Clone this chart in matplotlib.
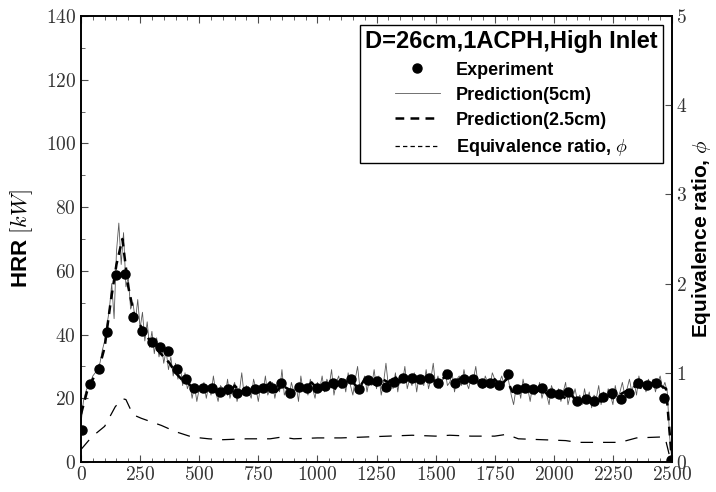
import numpy as np
import matplotlib
matplotlib.use("Agg")
import matplotlib.pyplot as plt
from matplotlib.ticker import FuncFormatter, MultipleLocator
from matplotlib.lines import Line2D

plt.rcParams['mathtext.fontset'] = 'cm'
plt.rcParams['font.family'] = ['Liberation Sans', 'DejaVu Sans']

# Experiment
exp_t = [3, 38, 76, 111, 147, 186, 221, 260, 299, 334, 369, 407, 444, 479, 516, 553, 588, 622, 659, 698,
         736, 771, 807, 846, 884, 922, 957, 997, 1032, 1067, 1105, 1142, 1177, 1213, 1251, 1289, 1325, 1361, 1399, 1434,
         1472, 1511, 1547, 1582, 1620, 1657, 1695, 1730, 1768, 1805, 1843, 1878, 1913, 1951, 1988, 2023, 2062, 2097, 2135, 2172,
         2210, 2245, 2283, 2318, 2355, 2393, 2431, 2468, 2494]
exp_hrr = [10, 24.5, 29.2, 40.8, 58.7, 58.9, 45.4, 41.1, 37.8, 36, 34.9, 29.1, 26, 23.1, 23.1, 23.1, 21.9, 22.9, 21.8, 22.4,
           22.9, 23.1, 23.3, 24.9, 21.8, 23.6, 23.1, 23.1, 23.8, 24.7, 24.7, 26, 22.9, 25.7, 25.5, 23.6, 25.2, 26.3, 26.3, 26,
           26.3, 24.9, 27.6, 24.7, 26, 26, 24.7, 24.7, 24.2, 27.6, 22.9, 23.1, 22.8, 23.1, 21.6, 21.3, 22.1, 19.2, 19.8, 19.2,
           20.3, 21.8, 19.7, 21.8, 24.7, 24.2, 24.7, 20, 0.6]

# Prediction (5cm), every 10 s
pred5_t = np.arange(0, 2501, 10)
pred5_hrr = [12, 19, 22, 24, 25, 27, 28, 30, 31, 35, 38, 43, 48, 56, 45, 66, 75, 62, 72, 55, 58, 48, 50, 44, 51, 42,
             47, 38, 44, 36, 41, 34, 39, 33, 37, 31, 35, 29, 33, 27, 31, 26, 30, 24, 28, 23, 25, 20, 24, 19, 23,
             22, 25, 20, 24, 21, 27, 22, 19, 24, 23, 21, 26, 20, 23, 25, 19, 22, 28, 21, 24,
             22, 20, 26, 23, 19, 24, 22, 27, 21, 23, 25, 20, 24, 22, 29, 21, 23, 20, 25, 22,
             24, 19, 27, 22, 24, 21, 26, 23, 20, 25,
             23, 27, 22, 26, 24, 29, 21, 25, 27, 23, 26, 22, 28, 24, 21, 26, 30, 23, 25, 27,
             22, 26, 24, 29, 23, 27, 21, 25, 31, 24, 26, 23, 28, 22, 27, 25, 30, 23, 26, 24,
             28, 22, 27, 25, 24, 29, 23, 26, 31, 24,
             27, 23, 26, 29, 24, 25, 28, 22, 26, 27, 24, 29, 25, 23, 27, 26, 30, 24, 25, 23,
             27, 25, 24, 28, 26, 23, 25, 27, 24, 29,
             25, 21, 18, 23, 24, 20, 26, 22, 23, 19, 24, 21, 22, 25, 20, 23, 21, 18, 24, 22,
             20, 23, 19, 22, 25, 18, 21, 20, 23, 19,
             21, 18, 23, 19, 22, 17, 21, 20, 24, 18, 22, 19, 23, 21, 18, 24, 20, 22, 25, 21,
             23, 26, 22, 25, 21, 27, 23, 25, 22, 26,
             24, 26, 22, 25, 27, 23, 25, 22, 8, 0]

# Prediction (2.5cm), every 25 s
pred25_t = np.arange(0, 2501, 25)
pred25_hrr = [15, 22, 26, 29, 36, 50, 62, 70, 55, 46, 43, 40, 37, 35, 33, 31, 28, 26, 25, 23, 23,
              22, 24, 22, 23, 21, 24, 22, 23, 24, 22, 23, 25, 22, 24, 23, 22, 24, 23, 25, 23,
              24, 25, 23, 26, 24, 25, 23, 26, 25, 24, 26, 25, 27, 25, 26, 27, 25, 26, 27, 25,
              26, 27, 25, 26, 27, 25, 26, 25, 24, 26, 24, 26, 22, 23, 22, 23, 22, 23, 21, 22,
              21, 20, 21, 19, 20, 19, 20, 19, 21, 20, 21, 22, 23, 24, 23, 24, 25, 24, 23, 0]

# Equivalence ratio
phi_t = [0, 45, 100, 145, 175, 190, 220, 255, 340, 400, 470, 540, 600, 700, 800, 850, 900, 1000, 1100, 1200,
         1300, 1400, 1500, 1560, 1650, 1750, 1800, 1850, 1950, 2050, 2100, 2200, 2280, 2350, 2450, 2470, 2495]
phi = [0.14, 0.28, 0.40, 0.62, 0.71, 0.70, 0.53, 0.49, 0.41, 0.34, 0.28, 0.26, 0.25, 0.26, 0.26, 0.28, 0.26, 0.27, 0.27, 0.28,
       0.29, 0.30, 0.29, 0.30, 0.29, 0.29, 0.31, 0.26, 0.25, 0.24, 0.22, 0.22, 0.22, 0.27, 0.28, 0.28, 0.01]

fig = plt.figure(figsize=(7.16, 4.92), dpi=100)
ax = fig.add_axes([81/716, 1-462/492, (672-81)/716, (462-16)/492])
ax2 = ax.twinx()

ax.plot(pred5_t, pred5_hrr, color='0.35', lw=0.6, zorder=2)
ax.plot(pred25_t, pred25_hrr, color='black', lw=1.8, ls=(0, (3.5, 2.5)), zorder=3)
ax.plot(exp_t, exp_hrr, 'o', color='black', ms=6.5, zorder=4)
ax2.plot(phi_t, phi, color='black', lw=0.9, ls=(0, (10, 8)))

ax.set_xlim(0, 2500)
ax.set_ylim(0, 140)
ax2.set_ylim(0, 5)

cm = FuncFormatter(lambda v, p: f'${v:g}$')
ax.xaxis.set_major_locator(MultipleLocator(250))
ax.xaxis.set_minor_locator(MultipleLocator(50))
ax.yaxis.set_major_locator(MultipleLocator(20))
ax.yaxis.set_minor_locator(MultipleLocator(10))
ax2.yaxis.set_major_locator(MultipleLocator(1))
ax.xaxis.set_major_formatter(cm)
ax.yaxis.set_major_formatter(cm)
ax2.yaxis.set_major_formatter(cm)

ax.tick_params(axis='both', which='both', direction='in', top=True, labelsize=14, color='0.3')
ax.tick_params(axis='both', which='major', length=5, width=0.8)
ax.tick_params(axis='both', which='minor', length=3, width=0.6)
ax.tick_params(axis='x', which='major', pad=3)
ax.tick_params(axis='y', which='both', right=False)
ax2.tick_params(axis='y', which='major', direction='in', length=5, labelsize=14, color='0.3', pad=3)
for a in (ax, ax2):
    for s in a.spines.values():
        s.set_linewidth(1.2)

ax.tick_params(axis='both', labelcolor='0.2')
ax2.tick_params(axis='y', labelcolor='0.2')

ax.set_ylabel('HRR $[kW]$', fontsize=16, fontweight='bold', labelpad=8)
ax2.set_ylabel('Equivalence ratio, $\\phi$', fontsize=15, fontweight='bold', labelpad=2)

handles = [
    Line2D([], [], marker='o', ls='none', color='black', ms=6.5),
    Line2D([], [], color='0.35', lw=0.6),
    Line2D([], [], color='black', lw=1.8, ls=(0, (3.5, 2.5))),
    Line2D([], [], color='black', lw=0.9, ls=(0, (3.5, 2.5))),
]
labels = ['Experiment', 'Prediction(5cm)', 'Prediction(2.5cm)', 'Equivalence ratio, $\\phi$']
leg = ax.legend(handles, labels, loc='upper right', title='D=26cm,1ACPH,High Inlet',
                fancybox=False, edgecolor='black', framealpha=1,
                prop={'weight': 'bold', 'size': 13}, title_fontproperties={'weight': 'bold', 'size': 17},
                borderaxespad=0.5, handlelength=2.5, labelspacing=0.45, borderpad=0.3, handletextpad=0.9)
leg.get_frame().set_linewidth(1.0)
leg.set_zorder(10)

fig.savefig('out.png', dpi=100)
